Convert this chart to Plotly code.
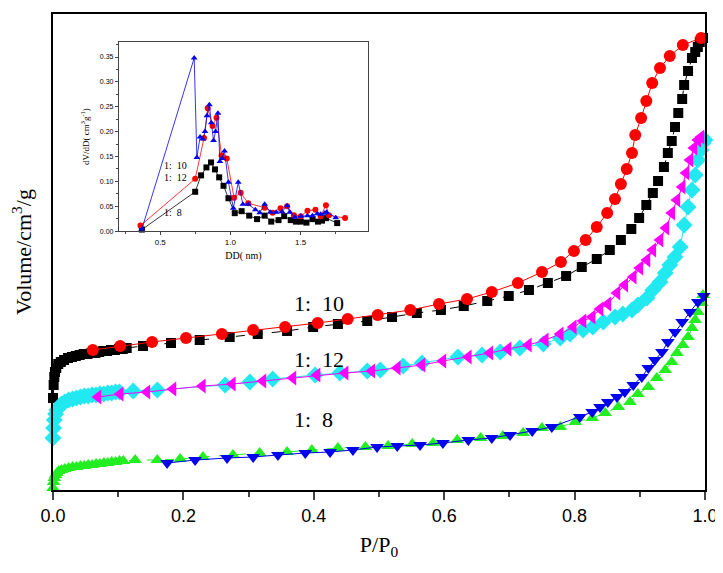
import plotly.graph_objects as go

# ---- main isotherms (volume in arbitrary units, offset curves) ----
# 1:10 adsorption (black squares)
ads10_x = [0.000, 0.001, 0.002, 0.003, 0.005, 0.008, 0.012, 0.017, 0.023, 0.029, 0.035, 0.041,
           0.047, 0.053, 0.059, 0.065, 0.071, 0.077, 0.083, 0.089, 0.095, 0.101, 0.107, 0.113,
           0.138, 0.181, 0.225, 0.271, 0.314, 0.359, 0.399, 0.437, 0.482, 0.520, 0.558, 0.595,
           0.630, 0.666, 0.699, 0.730, 0.759, 0.787, 0.811, 0.834, 0.854, 0.871, 0.887, 0.899,
           0.910, 0.920, 0.928, 0.937, 0.943, 0.949, 0.954, 0.959, 0.965, 0.968, 0.974, 0.980,
           0.985, 0.989, 0.992, 0.997]
ads10_y = [92, 105, 113, 118, 122, 126, 128, 130, 132, 133, 134, 135,
           136, 136, 137, 137, 138, 139, 139, 140, 140, 141, 141, 142,
           144, 147, 150, 153, 156, 159, 163, 166, 169, 173, 177, 180,
           184, 189, 194, 200, 207, 214, 223, 231, 240, 250, 261, 272,
           285, 297, 309, 323, 337, 349, 363, 377, 391, 405, 419, 432,
           438, 443, 448, 452]
# 1:10 desorption (red circles)
des10_x = [0.061, 0.103, 0.152, 0.204, 0.259, 0.307, 0.356, 0.406, 0.452, 0.498, 0.548, 0.592,
           0.635, 0.673, 0.713, 0.750, 0.779, 0.799, 0.817, 0.834, 0.850, 0.862, 0.871, 0.880,
           0.888, 0.893, 0.902, 0.910, 0.919, 0.931, 0.946, 0.966, 0.994]
des10_y = [140, 144, 148, 152, 156, 160, 163, 167, 171, 175, 180, 186,
           191, 198, 207, 218, 228, 239, 250, 263, 277, 291, 306, 321,
           337, 355, 372, 389, 407, 422, 434, 445, 452]

# 1:12 adsorption (cyan diamonds)
ads12_x = [0.000, 0.001, 0.002, 0.004, 0.006, 0.009, 0.013, 0.018, 0.024, 0.030, 0.036, 0.042,
           0.048, 0.054, 0.060, 0.066, 0.072, 0.078, 0.084, 0.090, 0.096, 0.102,
           0.123, 0.160, 0.264, 0.302, 0.337, 0.402, 0.440, 0.482, 0.502, 0.537, 0.566, 0.621,
           0.658, 0.686, 0.716, 0.752, 0.778, 0.793, 0.813, 0.828, 0.844, 0.862, 0.874, 0.888,
           0.897, 0.911, 0.920, 0.931, 0.939, 0.946, 0.954, 0.962, 0.968, 0.974, 0.980, 0.985,
           0.989, 0.994, 0.997, 1.000]
ads12_y = [52, 62, 70, 76, 80, 83, 86, 88, 90, 91, 92, 93,
           94, 94, 95, 95, 96, 96, 97, 97, 98, 98,
           99, 100, 105, 108, 111, 115, 117, 119, 120, 124, 127, 133,
           135, 138, 142, 146, 152, 156, 160, 163, 168, 173, 176, 180,
           185, 192, 200, 208, 217, 225, 233, 243, 265, 283, 300, 315,
           330, 340, 347, 350]
# 1:12 desorption (magenta triangles)
des12_x = [0.069, 0.103, 0.144, 0.184, 0.229, 0.275, 0.322, 0.368, 0.405, 0.448, 0.489, 0.528,
           0.566, 0.598, 0.637, 0.670, 0.698, 0.729, 0.755, 0.778, 0.798, 0.813, 0.827, 0.839,
           0.851, 0.865, 0.877, 0.890, 0.900, 0.911, 0.920, 0.931, 0.940, 0.949, 0.957, 0.965,
           0.971, 0.977, 0.983, 0.989, 0.994]
des12_y = [93, 96, 98, 101, 104, 106, 109, 112, 115, 117, 119, 122,
           125, 129, 133, 137, 141, 145, 150, 156, 163, 169, 173, 181,
           186, 197, 205, 213, 222, 230, 240, 250, 262, 277, 290, 303,
           317, 330, 342, 350, 353]

# 1:8 adsorption (green triangles)
ads8_x = [0.000, 0.001, 0.002, 0.004, 0.006, 0.009, 0.013, 0.018, 0.024, 0.030, 0.036, 0.042,
          0.048, 0.054, 0.060, 0.066, 0.072, 0.078, 0.084, 0.090, 0.096, 0.102, 0.108,
          0.126, 0.160, 0.195, 0.230, 0.276, 0.317, 0.359, 0.397, 0.437, 0.479, 0.514, 0.551,
          0.583, 0.620, 0.656, 0.690, 0.721, 0.750, 0.778, 0.801, 0.827, 0.847, 0.867, 0.885,
          0.897, 0.913, 0.926, 0.939, 0.949, 0.957, 0.966, 0.974, 0.980, 0.985, 0.989, 0.995,
          0.997]
ads8_y = [2, 8, 12, 15, 17, 19, 20, 21, 22, 23, 23, 24,
          24, 25, 25, 26, 26, 27, 27, 28, 28, 29, 29,
          30, 30, 31, 33, 35, 37, 38, 40, 42, 43, 44, 46,
          47, 50, 52, 54, 57, 62, 63, 68, 72, 77, 83, 88,
          96, 103, 112, 120, 128, 137, 145, 153, 162, 170, 178, 187,
          195]
# 1:8 desorption (blue triangles)
des8_x = [0.175, 0.218, 0.267, 0.307, 0.345, 0.387, 0.425, 0.460, 0.497, 0.528, 0.563, 0.598,
          0.637, 0.673, 0.701, 0.735, 0.765, 0.808, 0.827, 0.839, 0.851, 0.865, 0.877, 0.890,
          0.903, 0.913, 0.923, 0.934, 0.943, 0.954, 0.965, 0.977, 0.989, 0.998]
des8_y = [27, 30, 32, 33, 35, 37, 38, 40, 43, 44, 45, 47,
          50, 52, 55, 59, 63, 73, 78, 83, 88, 93, 98, 105,
          113, 122, 130, 138, 148, 158, 168, 178, 188, 194]

# ---- inset: pore size distribution ----
psd_a_x = [0.369, 0.742, 0.761, 0.784, 0.803, 0.819, 0.833, 0.850, 0.864, 0.880, 0.894, 0.911,
           0.925, 0.941, 0.958, 0.986, 1.021, 1.056, 1.089, 1.127, 1.178, 1.209, 1.244, 1.284,
           1.326, 1.368, 1.404, 1.423, 1.460, 1.502, 1.549, 1.585, 1.620, 1.643, 1.671, 1.685,
           1.751]
psd_a_y = [0.004, 0.348, 0.148, 0.189, 0.185, 0.200, 0.232, 0.254, 0.218, 0.182, 0.200, 0.237,
           0.140, 0.146, 0.161, 0.098, 0.046, 0.098, 0.054, 0.054, 0.043, 0.037, 0.054, 0.038,
           0.038, 0.039, 0.051, 0.038, 0.028, 0.030, 0.031, 0.031, 0.035, 0.034, 0.036, 0.038,
           0.027]
psd_b_x = [0.359, 0.749, 0.812, 0.838, 0.873, 0.901, 0.937, 0.974, 1.026, 1.073, 1.127, 1.244,
           1.301, 1.357, 1.404, 1.453, 1.502, 1.549, 1.606, 1.643, 1.681, 1.702, 1.817]
psd_b_y = [0.011, 0.105, 0.187, 0.247, 0.211, 0.228, 0.152, 0.146, 0.067, 0.077, 0.056, 0.047,
           0.037, 0.046, 0.050, 0.032, 0.030, 0.041, 0.043, 0.030, 0.052, 0.032, 0.026]
psd_c_x = [0.369, 0.749, 0.791, 0.829, 0.862, 0.890, 0.920, 0.951, 0.986, 1.031, 1.080, 1.134,
           1.190, 1.244, 1.291, 1.343, 1.383, 1.430, 1.467, 1.502, 1.542, 1.585, 1.624, 1.653,
           1.681, 1.761]
psd_c_y = [0.003, 0.079, 0.112, 0.128, 0.138, 0.124, 0.108, 0.091, 0.066, 0.036, 0.040, 0.031,
           0.024, 0.031, 0.019, 0.022, 0.030, 0.022, 0.019, 0.019, 0.017, 0.024, 0.019, 0.021,
           0.026, 0.016]

serif = "Liberation Serif"
sans = "Liberation Sans"

fig = go.Figure()


def iso(x, y, color, symbol, size, dash="solid"):
    fig.add_trace(go.Scatter(x=x, y=y, mode="lines+markers", cliponaxis=False,
                             line=dict(color=color, width=1, dash=dash),
                             marker=dict(color=color, symbol=symbol, size=size, line=dict(width=0))))


iso(ads10_x, ads10_y, "black", "square", 10, "dash")
iso(des10_x, des10_y, "#ff0000", "circle", 12)
iso(ads12_x, ads12_y, "#22e8f0", "diamond", 13)
iso(des12_x, des12_y, "#ff00ff", "triangle-left", 13)
iso(ads8_x, ads8_y, "#22ee22", "triangle-up", 12, "dash")
iso(des8_x, des8_y, "#0000ee", "triangle-down", 12)


def psd(x, y, color, symbol):
    fig.add_trace(go.Scatter(x=x, y=y, xaxis="x2", yaxis="y2", mode="lines+markers",
                             cliponaxis=False,
                             line=dict(color=color, width=0.8),
                             marker=dict(color=color, symbol=symbol, size=6, line=dict(width=0))))


psd(psd_c_x, psd_c_y, "black", "square")
psd(psd_b_x, psd_b_y, "#ff0000", "circle")
psd(psd_a_x, psd_a_y, "#0000ee", "triangle-up")

for txt, xv, yv in [("1:  10", 0.408, 187), ("1:  12", 0.408, 131), ("1:  8", 0.400, 71)]:
    fig.add_annotation(x=xv, y=yv, xref="x", yref="y", text=txt, showarrow=False,
                       font=dict(family=serif, size=22, color="black"))

for txt, xv, yv in [("1:  10", 0.515, 0.132), ("1:  12", 0.515, 0.108), ("1:  8", 0.515, 0.038)]:
    fig.add_annotation(x=xv, y=yv, xref="x2", yref="y2", text=txt, showarrow=False,
                       xanchor="left", font=dict(family=serif, size=10, color="black"))

# page body adds an 8px margin, so the figure is sized to fit inside the window
fig.update_layout(
    width=715, height=565,
    margin=dict(l=45, r=18, t=6, b=83),
    paper_bgcolor="white", plot_bgcolor="white",
    showlegend=False,
    xaxis=dict(range=[0, 1], dtick=0.2, tickformat=".1f", ticks="outside", ticklen=8,
               tickwidth=1.5, showline=True, linewidth=2, linecolor="black", mirror=True,
               showgrid=False, zeroline=False, automargin=False,
               minor=dict(ticks="outside", dtick=0.1, ticklen=5, tickwidth=1.5),
               tickfont=dict(family=sans, size=18, color="black"),
               title=dict(text="P/P<sub>0</sub>", font=dict(family=serif, size=22, color="black"),
                          standoff=12)),
    yaxis=dict(range=[0, 476], showticklabels=False, ticks="", showline=True, linewidth=2,
               linecolor="black", mirror=True, showgrid=False, zeroline=False, automargin=False,
               title=dict(text="Volume/cm<sup>3</sup>/g",
                          font=dict(family=serif, size=22, color="black"), standoff=16)),
    xaxis2=dict(domain=[0.101, 0.483], anchor="y2", range=[0.205, 1.98], dtick=0.5,
                tickformat=".1f", ticks="outside", ticklen=3, showline=True, linewidth=1,
                linecolor="#444", mirror=True, showgrid=False, zeroline=False,
                minor=dict(ticks="outside", dtick=0.25, ticklen=2),
                tickfont=dict(family=sans, size=8, color="black"),
                title=dict(text="DD( nm)", font=dict(family=serif, size=10, color="black"),
                           standoff=6)),
    yaxis2=dict(domain=[0.544, 0.941], anchor="x2", range=[0, 0.38], dtick=0.05,
                tickformat=".2f", ticks="outside", ticklen=3, showline=True, linewidth=1,
                linecolor="#444", mirror=True, showgrid=False, zeroline=False,
                minor=dict(ticks="outside", dtick=0.025, ticklen=2),
                tickfont=dict(family=sans, size=7, color="black"),
                title=dict(text="dV/dD( cm<sup>3</sup>g<sup>-1</sup>)",
                           font=dict(family=serif, size=9, color="black"), standoff=8)),
)

fig.write_html("out.html")
